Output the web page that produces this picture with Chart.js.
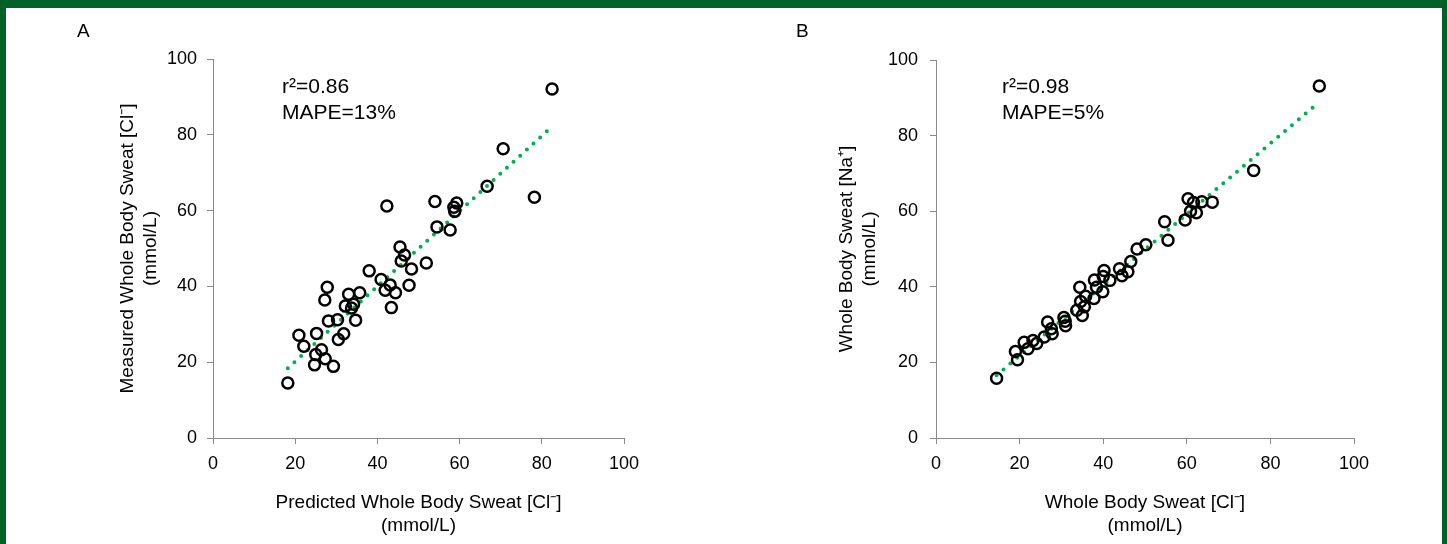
<!DOCTYPE html>
<html>
<head>
<meta charset="utf-8">
<script src="https://cdn.jsdelivr.net/npm/chart.js@4"></script>
<style>
  html, body { margin: 0; padding: 0; background: #fff; }
  #page {
    position: relative;
    width: 1447px; height: 544px;
    box-sizing: border-box;
    border-top: 8px solid #006229;
    border-left: 6px solid #006229;
    border-right: 5px solid #006229;
    overflow: hidden;
  }
  canvas { position: absolute; top: 0; }
  #chartA { left: 0; }
  #chartB { left: 720px; }
</style>
</head>
<body>
<div id="page"></div>
<canvas id="chartA" width="720" height="544"></canvas>
<canvas id="chartB" width="727" height="544"></canvas>
<script>
// Panel A: predicted vs measured whole body sweat chloride
const predictedCl = [82.5, 70.6, 66.7, 78.2, 42.3, 54.0, 59.3, 58.6, 58.8, 54.5, 57.7, 45.5, 46.6, 45.8, 48.3,
  51.9, 38.0, 40.9, 43.1, 41.9, 44.4, 47.7, 43.4, 27.8, 27.2, 33.0, 35.7, 34.2, 32.2, 33.7, 34.7, 28.1, 30.3,
  31.8, 30.5, 25.2, 20.9, 22.1, 26.4, 25.0, 27.3, 24.7, 29.3, 18.2];
const measuredCl = [92.1, 76.3, 66.4, 63.5, 61.2, 62.4, 62.0, 60.9, 59.8, 55.7, 54.9, 50.4, 48.3, 46.7, 44.6,
  46.2, 44.1, 41.8, 40.4, 39.0, 38.3, 40.3, 34.4, 39.8, 36.4, 37.9, 38.3, 35.3, 34.8, 34.3, 31.1, 30.9, 31.2,
  27.5, 26.0, 27.6, 27.1, 24.2, 23.3, 22.0, 20.9, 19.3, 18.9, 14.5];
const trendAx = [18.2, 82.5];
const trendAy = [18.4, 82.2];

// Panel B: whole body sweat chloride vs sodium
const wbCl = [91.7, 76.0, 60.3, 61.6, 63.6, 66.1, 60.9, 62.3, 59.6, 54.7, 55.5, 50.2, 48.1, 46.6, 45.9, 44.5,
  43.9, 40.2, 40.0, 41.6, 37.9, 38.4, 39.9, 37.8, 35.8, 34.4, 34.6, 35.5, 33.7, 35.0, 30.6, 30.9, 31.0, 26.7,
  27.6, 27.8, 25.9, 23.2, 24.1, 21.1, 22.0, 19.0, 19.5, 14.5];
const wbNa = [93.1, 70.8, 63.3, 62.3, 62.5, 62.4, 60.0, 59.6, 57.7, 57.2, 52.3, 51.1, 50.0, 46.7, 44.0, 42.9,
  44.8, 44.3, 42.7, 41.7, 41.8, 39.9, 38.7, 36.9, 37.5, 39.9, 36.1, 34.7, 33.8, 32.4, 31.9, 30.9, 29.7, 30.7,
  28.9, 27.6, 26.7, 25.8, 25.0, 25.3, 23.6, 22.9, 20.7, 15.8];
const trendBx = [14.5, 91.7];
const trendBy = [16.6, 88.9];

const axisTicks = [0, 20, 40, 60, 80, 100];

const FONT = '"Liberation Sans", Arial, sans-serif';
const GREY = '#8a8a8a';

function toPoints(xs, ys) {
  return xs.map((x, i) => ({ x: x, y: ys[i] }));
}

// draws the panel letter and the r2 / MAPE note
const annotate = {
  id: 'annotate',
  afterDraw(chart, args, opts) {
    const ctx = chart.ctx;
    ctx.save();
    ctx.fillStyle = '#000';
    ctx.textBaseline = 'alphabetic';
    ctx.textAlign = 'left';
    ctx.font = '19px ' + FONT;
    ctx.fillText(opts.letter, opts.letterX, 37);
    ctx.font = '21px ' + FONT;
    opts.lines.forEach((t, i) => ctx.fillText(t, opts.noteX, 93 + i * 26));
    ctx.restore();
  }
};

function makeChart(id, xs, ys, tx, ty, cfg) {
  const ctx = document.getElementById(id).getContext('2d');
  return new Chart(ctx, {
    type: 'scatter',
    data: {
      datasets: [{
        data: toPoints(tx, ty),
        showLine: true,
        borderColor: '#00b050',
        borderWidth: 4,
        borderDash: [0, 9],
        borderCapStyle: 'round',
        pointRadius: 0,
        order: 2
      }, {
        data: toPoints(xs, ys),
        pointStyle: 'circle',
        pointRadius: 5.5,
        pointBorderWidth: 2.5,
        pointBorderColor: '#000',
        pointBackgroundColor: 'rgba(0,0,0,0)',
        order: 1
      }]
    },
    options: {
      responsive: false,
      animation: false,
      layout: { padding: cfg.padding },
      plugins: {
        legend: { display: false },
        tooltip: { enabled: false },
        annotate: cfg.note
      },
      scales: {
        x: {
          type: 'linear', min: 0, max: 100,
          afterBuildTicks: s => { s.ticks = axisTicks.map(v => ({ value: v })); },
          afterFit: s => { s.height = cfg.xHeight; },
          border: { color: GREY, width: 1 },
          grid: { drawOnChartArea: false, drawTicks: true, tickLength: 6, color: GREY },
          ticks: { color: '#000', font: { family: FONT, size: 18 }, padding: 9, maxRotation: 0 },
          title: {
            display: true, text: cfg.xTitle, color: '#000',
            font: { family: FONT, size: 19, lineHeight: 1.25 }, padding: 0
          }
        },
        y: {
          type: 'linear', min: 0, max: 100,
          afterBuildTicks: s => { s.ticks = axisTicks.map(v => ({ value: v })); },
          afterFit: s => { s.width = cfg.yWidth; },
          border: { color: GREY, width: 1 },
          grid: { drawOnChartArea: false, drawTicks: true, tickLength: 6, color: GREY },
          ticks: { color: '#000', font: { family: FONT, size: 18 }, padding: cfg.yPad },
          title: {
            display: true, text: cfg.yTitle, color: '#000',
            font: { family: FONT, size: 19, lineHeight: 1.22 }, padding: 0
          }
        }
      }
    },
    plugins: [annotate]
  });
}

makeChart('chartA', predictedCl, measuredCl, trendAx, trendAy, {
  padding: { left: 116, top: 59, right: 96, bottom: 6 },
  yWidth: 97, xHeight: 100, yPad: 10,
  xTitle: ['Predicted Whole Body Sweat [Cl\u207B]', '(mmol/L)'],
  yTitle: ['Measured Whole Body Sweat [Cl\u207B]', '(mmol/L)'],
  note: { letter: 'A', letterX: 77, noteX: 282, lines: ['r\u00B2=0.86', 'MAPE=13%'] }
});

makeChart('chartB', wbCl, wbNa, trendBx, trendBy, {
  padding: { left: 115, top: 60, right: 93, bottom: 6 },
  yWidth: 101, xHeight: 100, yPad: 12,
  xTitle: ['Whole Body Sweat [Cl\u207B]', '(mmol/L)'],
  yTitle: ['Whole Body Sweat [Na\u207A]', '(mmol/L)'],
  note: { letter: 'B', letterX: 76, noteX: 282, lines: ['r\u00B2=0.98', 'MAPE=5%'] }
});
</script>
</body>
</html>
